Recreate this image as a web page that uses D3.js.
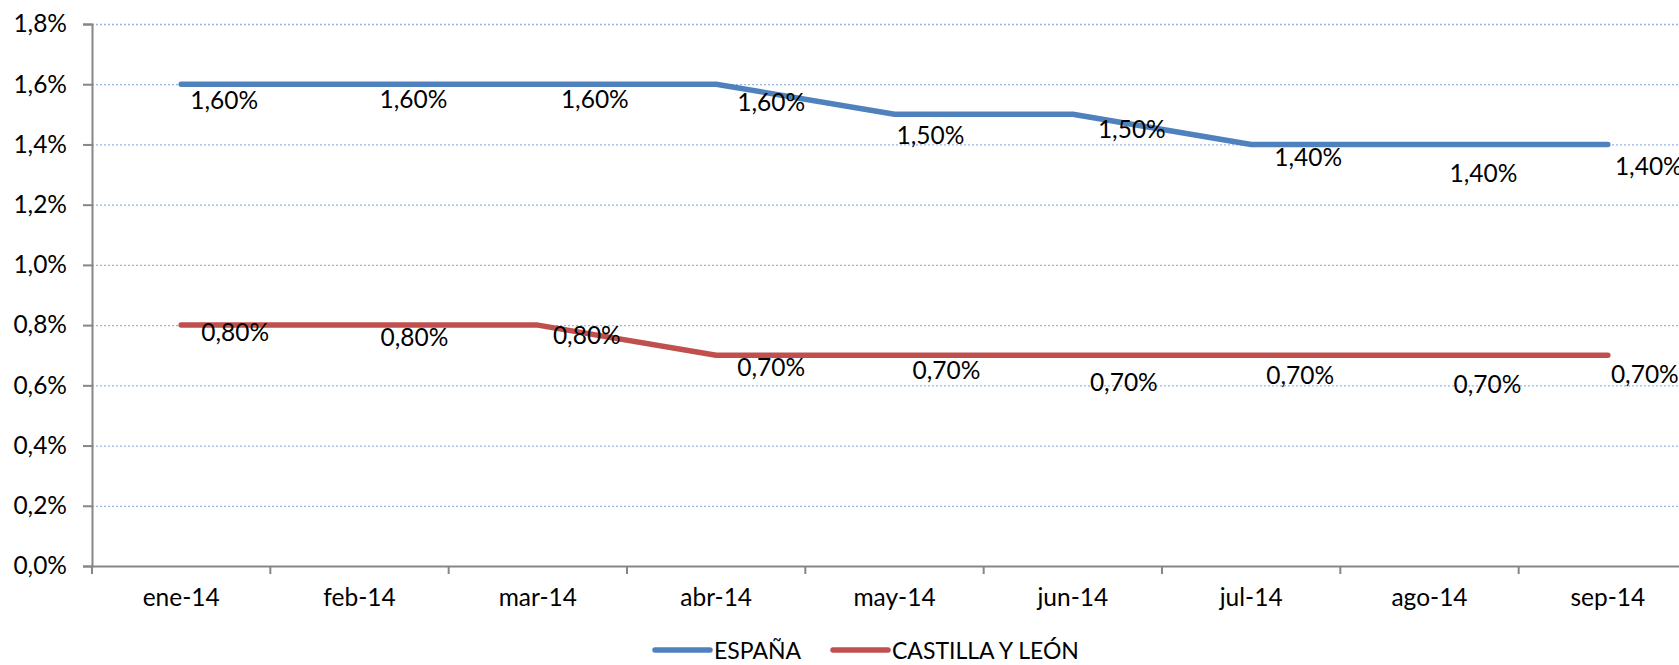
<!DOCTYPE html>
<html>
<head>
<meta charset="utf-8">
<script src="https://cdn.jsdelivr.net/npm/d3@7"></script>
<style>
  body { margin: 0; background: #fff; overflow: hidden; }
  text { font-family: Lato, "Liberation Sans", sans-serif; fill: #000; }
</style>
</head>
<body>
<div id="chart"></div>
<script>
const months = ["ene-14", "feb-14", "mar-14", "abr-14", "may-14", "jun-14", "jul-14", "ago-14", "sep-14"];
const espana = [1.6, 1.6, 1.6, 1.6, 1.5, 1.5, 1.4, 1.4, 1.4];
const castilla = [0.8, 0.8, 0.8, 0.7, 0.7, 0.7, 0.7, 0.7, 0.7];
const yTicks = [0, 0.2, 0.4, 0.6, 0.8, 1.0, 1.2, 1.4, 1.6, 1.8];
const seriesNames = ["ESPAÑA", "CASTILLA Y LEÓN"];

// label nudges (px from the point), the labels were hand placed in the original
const espanaNudge = [[43, 15], [54, 14], [57, 14], [55, 17], [36, 20], [59, 14], [57, 12], [54, 28], [41, 21]];
const castillaNudge = [[54, 6], [55, 11], [49, 9], [55, 11], [52, 14], [51, 26], [49, 19], [58, 28], [37, 18]];

const W = 1679, H = 665;
const margin = {top: 24, left: 92};
const plotW = 1605, plotH = 542;
const fontSize = "24.5px";
const fmt = v => v.toFixed(2).replace(".", ",") + "%";

const svg = d3.select("#chart").append("svg")
  .attr("width", W).attr("height", H);

const x = d3.scaleBand().domain(months).range([margin.left, margin.left + plotW]);
const y = d3.scaleLinear().domain([0, 1.8]).range([margin.top + plotH, margin.top]);
const cx = m => x(m) + x.bandwidth() / 2;

// gridlines
svg.append("g").selectAll("line")
  .data(yTicks.filter(d => d > 0))
  .join("line")
  .attr("x1", margin.left).attr("x2", margin.left + plotW)
  .attr("y1", d => y(d) + 0.5).attr("y2", d => y(d) + 0.5)
  .attr("stroke", "#98b4e4").attr("stroke-width", 1.3)
  .attr("stroke-dasharray", "2,2");

// y axis
const yAxis = d3.axisLeft(y).tickValues(yTicks).tickSize(9).tickPadding(16)
  .tickFormat(d => d.toFixed(1).replace(".", ",") + "%");
const gy = svg.append("g").attr("transform", `translate(${margin.left},0)`).call(yAxis);
gy.select(".domain").attr("stroke", "#868686").attr("stroke-width", 2);
gy.selectAll(".tick line").attr("stroke", "#868686").attr("stroke-width", 2);
gy.selectAll(".tick text").style("font-size", fontSize).attr("fill", "#000");

// x axis, ticks on category boundaries
const xAxis = d3.axisBottom(x).tickSize(0).tickPadding(23);
const gx = svg.append("g").attr("transform", `translate(0,${margin.top + plotH})`).call(xAxis);
gx.select(".domain").attr("stroke", "#868686").attr("stroke-width", 2);
gx.selectAll(".tick text").style("font-size", fontSize).attr("fill", "#000");
gx.selectAll(".bound")
  .data(d3.range(months.length + 1))
  .join("line")
  .attr("x1", i => margin.left + i * x.bandwidth())
  .attr("x2", i => margin.left + i * x.bandwidth())
  .attr("y1", 0).attr("y2", 8)
  .attr("stroke", "#868686").attr("stroke-width", 2);

const line = d3.line().x((d, i) => cx(months[i])).y(d => y(d));

const series = [
  {name: seriesNames[0], values: espana, color: "#4f81bd", nudge: espanaNudge},
  {name: seriesNames[1], values: castilla, color: "#c0504d", nudge: castillaNudge}
];

series.forEach(s => {
  svg.append("path").datum(s.values)
    .attr("d", line)
    .attr("fill", "none")
    .attr("stroke", s.color)
    .attr("stroke-width", 5.5)
    .attr("stroke-linecap", "round")
    .attr("stroke-linejoin", "round");
});

series.forEach(s => {
  svg.append("g").selectAll("text")
    .data(s.values)
    .join("text")
    .attr("x", (d, i) => cx(months[i]) + s.nudge[i][0])
    .attr("y", (d, i) => y(d) + s.nudge[i][1])
    .attr("text-anchor", "middle")
    .attr("dominant-baseline", "central")
    .style("font-size", fontSize)
    .text(d => fmt(d));
});

// legend
const legend = svg.append("g").attr("transform", "translate(0,650)");
const legendX = [655, 833];
series.forEach((s, i) => {
  legend.append("line")
    .attr("x1", legendX[i]).attr("x2", legendX[i] + 55)
    .attr("y1", 0).attr("y2", 0)
    .attr("stroke", s.color).attr("stroke-width", 5.5)
    .attr("stroke-linecap", "round");
  legend.append("text")
    .attr("x", legendX[i] + 59).attr("y", 0)
    .attr("dominant-baseline", "central")
    .style("font-size", "23px")
    .text(s.name);
});
</script>
</body>
</html>
